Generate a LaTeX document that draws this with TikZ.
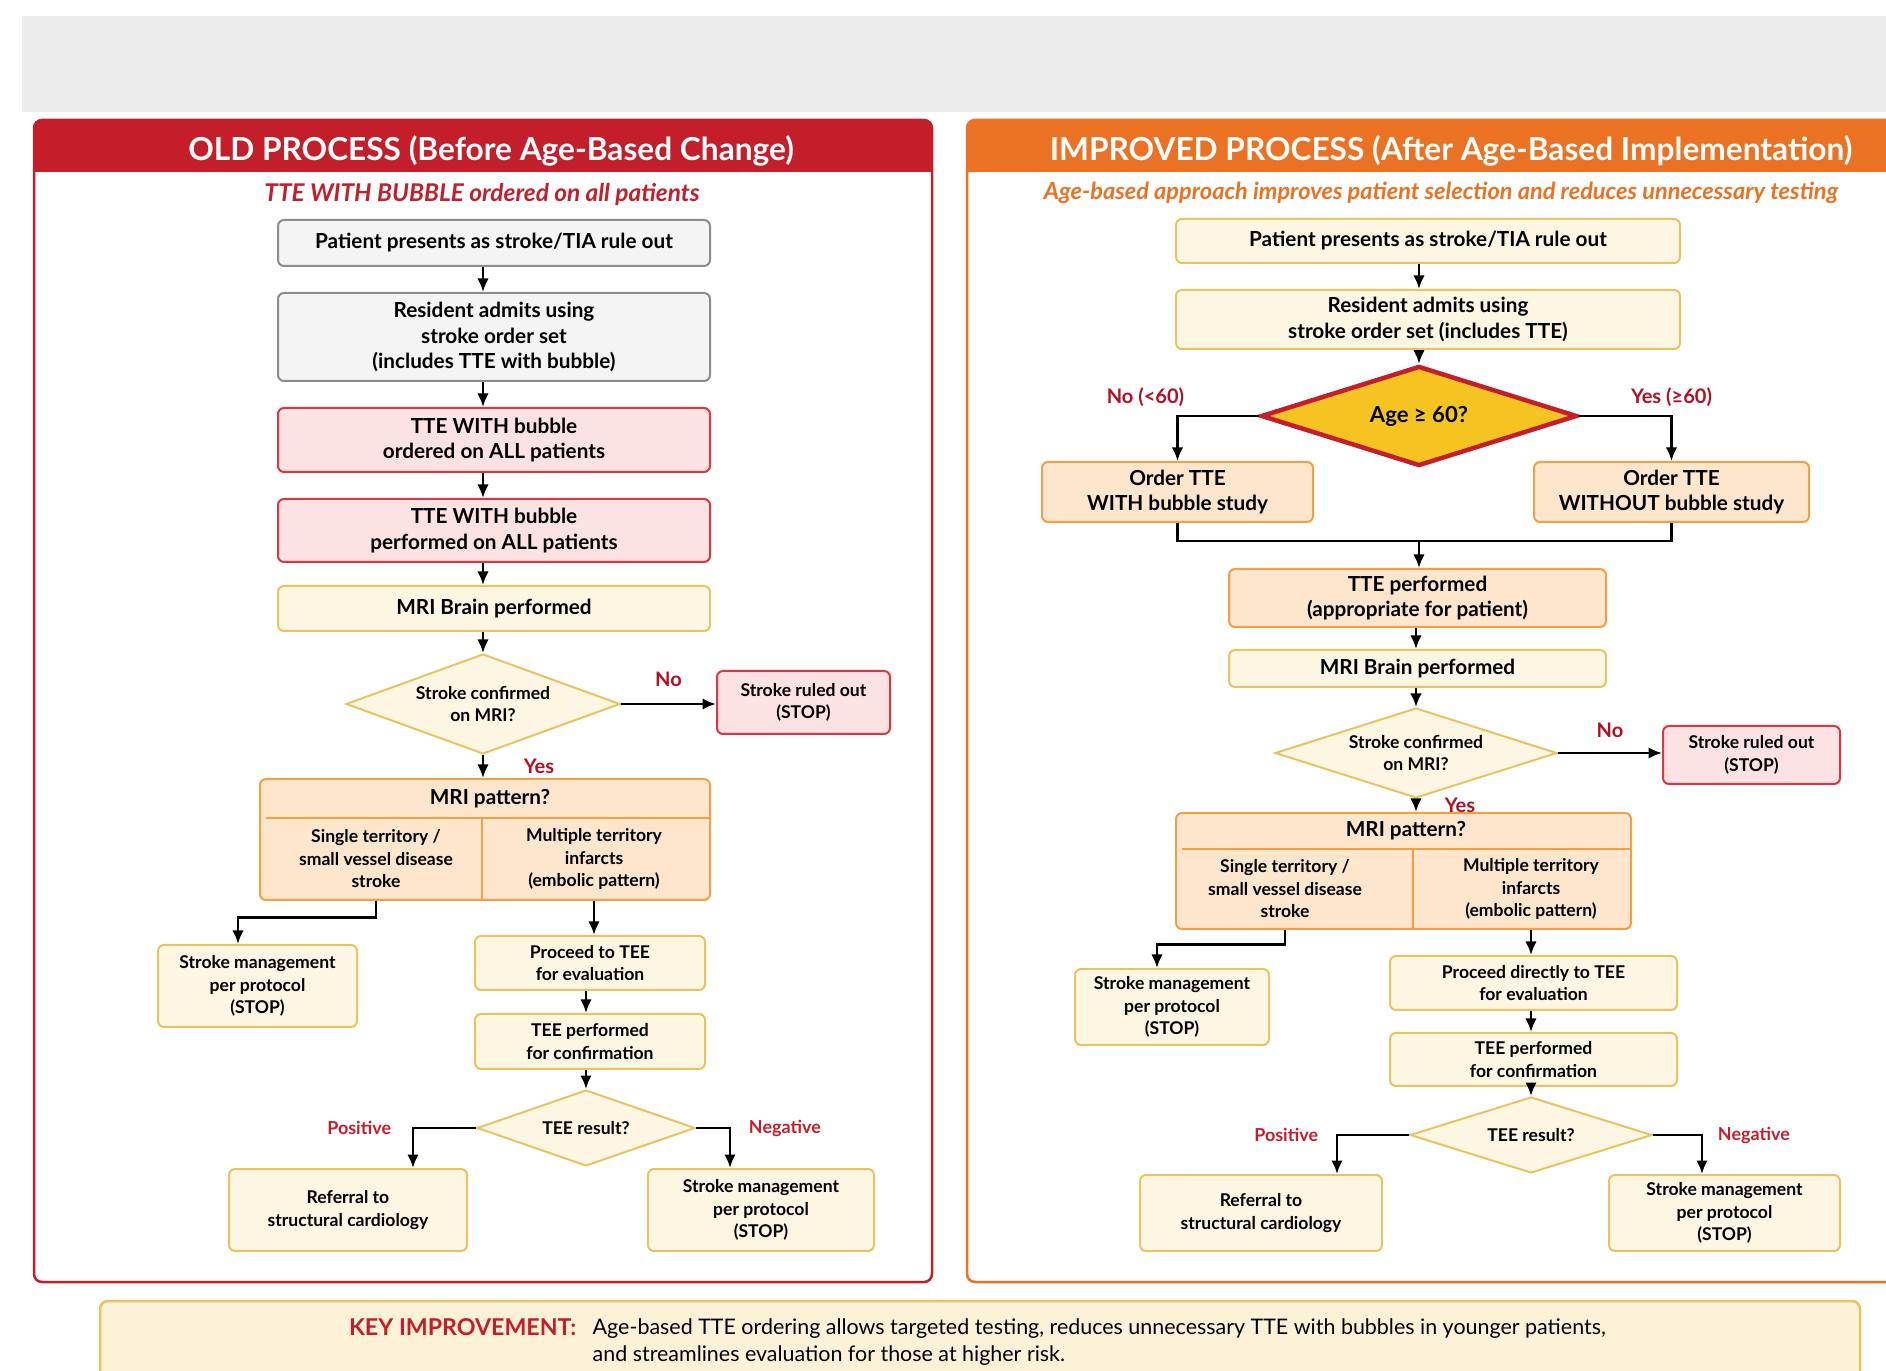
\documentclass[tikz,border=0pt]{standalone}
\usepackage{fontspec}
\setmainfont{Lato}
\usepackage{tikz}
\usetikzlibrary{arrows.meta,shapes.geometric}

\definecolor{oldred}{RGB}{196,30,42}
\definecolor{neworange}{RGB}{234,114,34}
\definecolor{bandgray}{RGB}{235,235,235}
\definecolor{boxgray}{RGB}{140,140,140}
\definecolor{fillgray}{RGB}{244,244,244}
\definecolor{fillpink}{RGB}{252,226,226}
\definecolor{pinkline}{RGB}{222,54,64}
\definecolor{fillcream}{RGB}{253,246,226}
\definecolor{creamline}{RGB}{232,196,96}
\definecolor{fillpeach}{RGB}{253,230,204}
\definecolor{peachline}{RGB}{242,160,70}
\definecolor{agegold}{RGB}{246,196,32}
\definecolor{darkred}{RGB}{178,16,32}
\definecolor{keyfill}{RGB}{253,242,216}

\newcommand{\boxtxt}{\bfseries\fontsize{5.9}{7.3}\selectfont}
\newcommand{\smalltxt}{\bfseries\fontsize{5.0}{6.4}\selectfont}
\newcommand{\titletxt}{\bfseries\fontsize{9.0}{11}\selectfont}
\newcommand{\lbltxt}{\bfseries\fontsize{5.7}{7}\selectfont}

\begin{document}
\begin{tikzpicture}[x=0.1mm,y=-0.1mm,>={Latex[length=1.35mm,width=1.15mm]},
  box/.style={rectangle,rounded corners=0.6mm,line width=0.2mm,align=center,inner sep=0.4mm,font=\boxtxt},
  graybox/.style={box,draw=boxgray,fill=fillgray},
  pinkbox/.style={box,draw=pinkline,fill=fillpink},
  creambox/.style={box,draw=creamline,fill=fillcream},
  peachbox/.style={box,draw=peachline,fill=fillpeach},
  small/.style={font=\smalltxt},
  decision/.style={diamond,aspect=3,inner sep=0,line width=0.2mm,draw=creamline,fill=fillcream,align=center,font=\smalltxt},
  cell/.style={inner sep=0,align=center,font=\smalltxt},
  arr/.style={->,line width=0.25mm},
  link/.style={line width=0.25mm},
  yesno/.style={font=\lbltxt,text=darkred},
  posneg/.style={font=\bfseries\fontsize{5.1}{6}\selectfont,text=oldred}]
\useasboundingbox (0,0) rectangle (1886,1371);
\clip (0,0) rectangle (1886,1371);

% top band
\fill[bandgray] (22,16) rectangle (1900,112);

% panel frames
\fill[oldred,rounded corners=0.8mm] (34,120) rectangle (932,172);
\fill[oldred] (34,150) rectangle (932,172);
\draw[oldred,line width=0.25mm,rounded corners=0.8mm] (34,120) rectangle (932,1282);
\fill[neworange,rounded corners=0.8mm] (967,120) rectangle (1950,172);
\fill[neworange] (967,150) rectangle (1950,172);
\draw[neworange,line width=0.25mm,rounded corners=0.8mm] (967,120) rectangle (1950,1282);
\node[text=white,font=\titletxt] (oldtitle) at (491,151) {OLD PROCESS (Before Age-Based Change)};
\node[text=white,font=\titletxt] (newtitle) at (1451,151) {IMPROVED PROCESS (After Age-Based Implementation)};
\node[text=oldred,font=\bfseries\itshape\fontsize{6.95}{8}\selectfont] (oldsub) at (482,194) {TTE WITH BUBBLE ordered on all patients};
\node[text=neworange,font=\bfseries\itshape\fontsize{6.7}{8}\selectfont] (newsub) at (1441,193) {Age-based approach improves patient selection and reduces unnecessary testing};

%% old process
\coordinate (lx) at (483,0);
\coordinate (lsm) at (238,0);
\coordinate (lpos) at (413,0);
\coordinate (lneg) at (730,0);
\node[graybox,minimum width=43.2mm,minimum height=4.6mm] (L1) at (494,243) {Patient presents as stroke/TIA rule out};
\node[graybox,minimum width=43.2mm,minimum height=8.8mm] (L2) at (494,337) {Resident admits using\\stroke order set\\(includes TTE with bubble)};
\node[pinkbox,minimum width=43.2mm,minimum height=6.4mm] (L3) at (494,440) {TTE WITH bubble\\ordered on ALL patients};
\node[pinkbox,minimum width=43.2mm,minimum height=6.3mm] (L4) at (494,530.5) {TTE WITH bubble\\performed on ALL patients};
\node[creambox,minimum width=43.2mm,minimum height=4.5mm] (L5) at (494,608.5) {MRI Brain performed};
\node[decision,minimum width=27.4mm,minimum height=10mm] (LD1) at (483,704) {Stroke confirmed\\on MRI?};
\node[pinkbox,small,minimum width=17.3mm,minimum height=6.3mm] (LStop) at (803.5,702.5) {Stroke ruled out\\(STOP)};
\node[peachbox,minimum width=45mm,minimum height=12.1mm] (LPat) at (485,839.5) {};
\draw[peachline,line width=0.2mm] (266,818) -- (710,818) (482,818) -- (482,900);
\node[cell,font=\boxtxt] (LPatQ) at (490,798.5) {MRI pattern?};
\node[cell,minimum height=8.2mm] (LCellA) at (376,859) {Single territory /\\small vessel disease\\stroke};
\node[cell,minimum height=8.2mm] (LCellB) at (594,859) {Multiple territory\\infarcts\\(embolic pattern)};
\node[creambox,small,minimum width=19.9mm,minimum height=8.2mm] (LSM) at (257.5,986) {Stroke management\\per protocol\\(STOP)};
\node[creambox,small,minimum width=23mm,minimum height=5.4mm] (LTEE1) at (590,963) {Proceed to TEE\\for evaluation};
\node[creambox,small,minimum width=23mm,minimum height=5.5mm] (LTEE2) at (590,1041.5) {TEE performed\\for confirmation};
\node[decision,minimum width=21.8mm,minimum height=7.6mm] (LD2) at (586,1128) {TEE result?};
\node[creambox,small,minimum width=23.8mm,minimum height=8.2mm] (LRef) at (348,1210) {Referral to\\structural cardiology};
\node[creambox,small,minimum width=22.6mm,minimum height=8.2mm] (LSM2) at (761,1210) {Stroke management\\per protocol\\(STOP)};

\draw[arr] (L1.south -| lx) -- (L2.north -| lx);
\draw[arr] (L2.south -| lx) -- (L3.north -| lx);
\draw[arr] (L3.south -| lx) -- (L4.north -| lx);
\draw[arr] (L4.south -| lx) -- (L5.north -| lx);
\draw[arr] (L5.south -| lx) -- (LD1.north);
\draw[arr] (LD1.east) -- node[yesno,above=0.4mm]{No} (LD1.east -| LStop.west);
\draw[arr] (LD1.south) -- node[yesno,right=2.8mm]{Yes} (LPat.north -| LD1);
\draw[arr] (LCellA.south) -- ++(0,17) -| (lsm |- LSM.north);
\draw[arr] (LCellB.south) -- (LCellB.south |- LTEE1.north);
\draw[arr] (LTEE1.south -| LD2) -- (LTEE2.north -| LD2);
\draw[arr] (LTEE2.south -| LD2) -- (LD2.north);
\draw[arr] (LD2.west) -| node[posneg,pos=.5,left=0.9mm]{Positive} (lpos |- LRef.north);
\draw[arr] (LD2.east) -| node[posneg,pos=.5,right=0.6mm]{Negative} (lneg |- LSM2.north);

%% improved process
\coordinate (rx) at (1419,0);
\coordinate (rsm) at (1157,0);
\coordinate (rpos) at (1337,0);
\coordinate (rneg) at (1702,0);
\coordinate (RJoin) at (1419,541);
\node[creambox,minimum width=50.4mm,minimum height=4.4mm] (R1) at (1428,241) {Patient presents as stroke/TIA rule out};
\node[creambox,minimum width=50.4mm,minimum height=5.9mm] (R2) at (1428,319.5) {Resident admits using\\stroke order set (includes TTE)};
\node[diamond,aspect=3,inner sep=0,draw=oldred,line width=0.45mm,fill=agegold,font=\bfseries\fontsize{6.3}{7}\selectfont,minimum width=31.6mm,minimum height=10mm] (RAge) at (1419,416) {Age ≥ 60?};
\node[peachbox,minimum width=27.1mm,minimum height=6mm] (RW) at (1177.5,492) {Order TTE\\WITH bubble study};
\node[peachbox,minimum width=27.5mm,minimum height=6mm] (RWO) at (1671.5,492) {Order TTE\\WITHOUT bubble study};
\node[peachbox,minimum width=37.7mm,minimum height=5.8mm] (RTTE) at (1417.5,598) {TTE performed\\(appropriate for patient)};
\node[creambox,minimum width=37.7mm,minimum height=3.7mm] (RMRI) at (1417.5,668.5) {MRI Brain performed};
\node[decision,minimum width=28.2mm,minimum height=9mm] (RD1) at (1416,753) {Stroke confirmed\\on MRI?};
\node[pinkbox,small,minimum width=17.7mm,minimum height=5.8mm] (RStop) at (1751.5,755) {Stroke ruled out\\(STOP)};
\node[peachbox,minimum width=45.5mm,minimum height=11.6mm] (RPat) at (1403.5,871) {};
\draw[peachline,line width=0.2mm] (1182,849) -- (1631,849) (1413,849) -- (1413,929);
\node[cell,font=\boxtxt] (RPatQ) at (1406,831) {MRI pattern?};
\node[cell,minimum height=8mm] (RCellA) at (1285,889) {Single territory /\\small vessel disease\\stroke};
\node[cell,minimum height=8mm] (RCellB) at (1531,889) {Multiple territory\\infarcts\\(embolic pattern)};
\node[creambox,small,minimum width=19.4mm,minimum height=7.6mm] (RSM) at (1172,1007) {Stroke management\\per protocol\\(STOP)};
\node[creambox,small,minimum width=28.7mm,minimum height=5.4mm] (RTEE1) at (1533.5,983) {Proceed directly to TEE\\for evaluation};
\node[creambox,small,minimum width=28.7mm,minimum height=5.3mm] (RTEE2) at (1533.5,1059.5) {TEE performed\\for confirmation};
\node[decision,minimum width=24.2mm,minimum height=7.6mm] (RD2) at (1531,1135) {TEE result?};
\node[creambox,small,minimum width=24.2mm,minimum height=7.6mm] (RRef) at (1261,1213) {Referral to\\structural cardiology};
\node[creambox,small,minimum width=23.1mm,minimum height=7.6mm] (RSM2) at (1724.5,1213) {Stroke management\\per protocol\\(STOP)};

\draw[arr] (R1.south -| rx) -- (R2.north -| rx);
\draw[arr] (R2.south -| rx) -- (RAge.north);
\draw[arr] (RAge.west) -| node[yesno,pos=.5,above=0mm,yshift=-0.4mm,xshift=-3.2mm]{No (<60)} (RW.north);
\draw[arr] (RAge.east) -| node[yesno,pos=.5,above=0mm,yshift=-0.4mm]{Yes (≥60)} (RWO.north);
\draw[link] (RW.south) |- (RJoin) -| (RWO.south);
\draw[arr] (RJoin) -- (RTTE.north -| RJoin);
\draw[arr] (RTTE.south -| RD1) -- (RMRI.north -| RD1);
\draw[arr] (RMRI.south -| RD1) -- (RD1.north);
\draw[arr] (RD1.east) -- node[yesno,above=0.2mm]{No} (RD1.east -| RStop.west);
\draw[arr] (RD1.south) -- node[yesno,right=1.6mm]{Yes} (RPat.north -| RD1);
\draw[arr] (RCellA.south) -- ++(0,15) -| (rsm |- RSM.north);
\draw[arr] (RCellB.south) -- (RCellB.south |- RTEE1.north);
\draw[arr] (RTEE1.south -| RD2) -- (RTEE2.north -| RD2);
\draw[arr] (RTEE2.south -| RD2) -- (RD2.north);
\draw[arr] (RD2.west) -| node[posneg,pos=.5,left=0.6mm]{Positive} (rpos |- RRef.north);
\draw[arr] (RD2.east) -| node[posneg,pos=.5,right=0.3mm]{Negative} (rneg |- RSM2.north);

% key improvement
\draw[creamline,fill=keyfill,line width=0.25mm,rounded corners=0.8mm] (100,1301) rectangle (1860,1420);
\node[anchor=base east,inner sep=0,text=oldred,font=\bfseries\fontsize{6.6}{7.4}\selectfont] (keyhead) at (577,1335) {KEY IMPROVEMENT:};
\node[anchor=base west,align=left,inner sep=0,font=\fontsize{6.1}{7.4}\selectfont] (keytext) at (592,1361) {Age-based TTE ordering allows targeted testing, reduces unnecessary TTE with bubbles in younger patients,\\and streamlines evaluation for those at higher risk.};
\end{tikzpicture}
\end{document}
